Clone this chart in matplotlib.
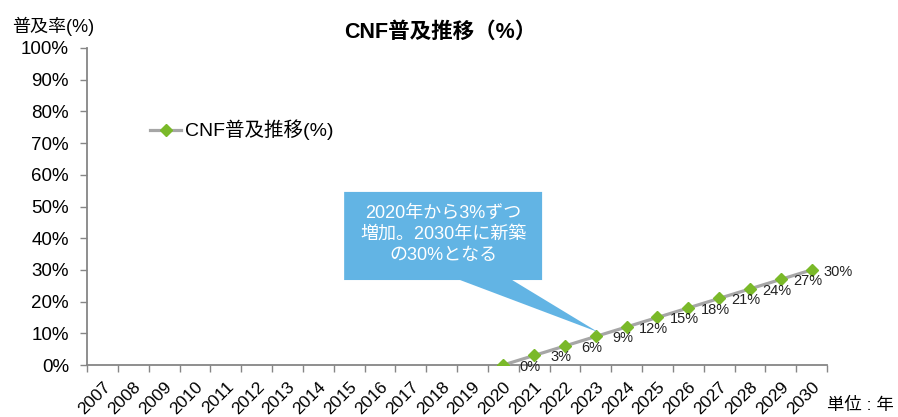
import matplotlib
matplotlib.use("Agg")
import matplotlib.pyplot as plt
from matplotlib.patches import Polygon
import numpy as np

plt.rcParams['font.family'] = ['Liberation Sans', 'Noto Sans CJK JP', 'DejaVu Sans']

# 年と普及率(%)
years = [str(y) for y in range(2007, 2031)]
rate_years = ['2020', '2021', '2022', '2023', '2024', '2025',
              '2026', '2027', '2028', '2029', '2030']
rate = [0, 3, 6, 9, 12, 15, 18, 21, 24, 27, 30]
y_ticks = list(range(0, 101, 10))

fig = plt.figure(figsize=(8.98, 4.17), dpi=100)
ax = fig.add_axes([87 / 898, 52 / 417, 740 / 898, 317 / 417])

# カテゴリ軸: 各年の中心に点を置く
xpos = [years.index(y) + 0.5 for y in rate_years]
ax.plot(xpos, rate, color='#A6A6A6', lw=2.3, marker='D', ms=6.3,
        mfc='#7AB929', mec='#7AB929', label='CNF普及推移(%)', zorder=3)

for x, v in zip(xpos, rate):
    ax.annotate(f'{v}%', (x, v), xytext=(27, -2), textcoords='offset pixels',
                ha='center', va='center', fontsize=10.5, color='#222222')

ax.set_xlim(0, len(years))
ax.set_ylim(0, 100)

ax.set_xticks(np.arange(0, len(years) + 1))
ax.set_xticklabels([])
ax.set_xticks(np.arange(len(years)) + 0.5, minor=True)
ax.set_xticklabels(years, minor=True, rotation=45, ha='right',
                   rotation_mode='anchor', fontsize=12.5)
ax.tick_params(axis='x', which='minor', length=0, pad=10)
ax.tick_params(axis='x', which='major', length=5, color='#868686', width=1)

ax.set_yticks(y_ticks)
ax.set_yticklabels([f'{t}%' for t in y_ticks], fontsize=13.5)
ax.tick_params(axis='y', length=5, color='#868686', width=1, pad=8)

for s in ['top', 'right']:
    ax.spines[s].set_visible(False)
for s in ['left', 'bottom']:
    ax.spines[s].set_color('#868686')
    ax.spines[s].set_linewidth(1.3)

# 吹き出し
bx0, bx1, by0, by1 = 8.34, 14.76, 26.8, 54.6
callout = Polygon([(bx0, by0), (bx0, by1), (bx1, by1), (bx1, by0),
                   (13.79, by0), (16.57, 10.4), (12.1, by0)],
                  closed=True, fc='#62B4E4', ec='none', zorder=4)
ax.add_patch(callout)
ax.text((bx0 + bx1) / 2, (by0 + by1) / 2 + 0.5,
        '2020年から3%ずつ\n増加。2030年に新築\nの30%となる',
        ha='center', va='center', color='white', fontsize=13,
        linespacing=1.3, zorder=5)

ax.legend(loc='center left', bbox_to_anchor=(150 / 898, 1 - 130 / 417),
          bbox_transform=fig.transFigure, frameon=False, fontsize=14,
          handlelength=1.6, handletextpad=0.2, borderpad=0, borderaxespad=0)

fig.text(440 / 898, 1 - 32 / 417, 'CNF普及推移（%）', ha='center', va='center',
         fontsize=15.5, fontweight='bold')
fig.text(12 / 898, 1 - 26 / 417, '普及率(%)', ha='left', va='center', fontsize=13)
fig.text(894 / 898, 1 - 405 / 417, '単位 : 年', ha='right', va='center', fontsize=12.5)

fig.savefig('out.png', dpi=100, facecolor='white')
